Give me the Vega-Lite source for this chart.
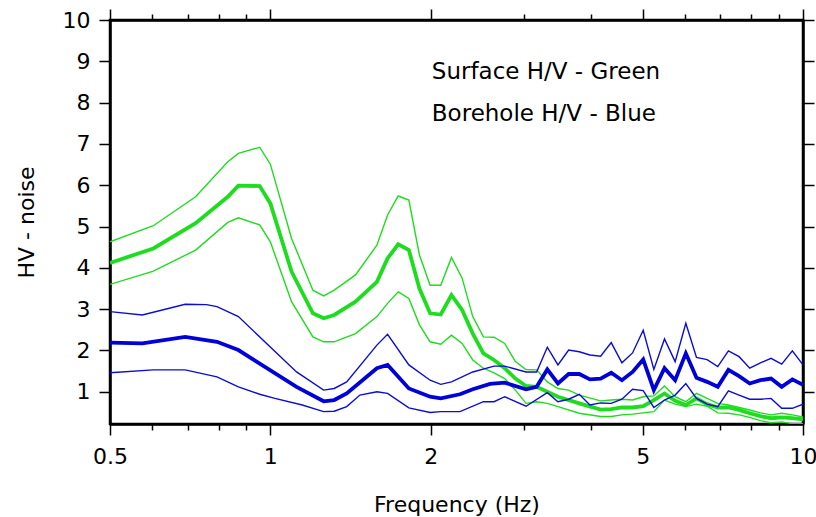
{
  "$schema": "https://vega.github.io/schema/vega-lite/v6.json",
  "width": 693,
  "height": 404,
  "autosize": {"type": "none"},
  "padding": {"left": 110, "top": 20, "right": 13, "bottom": 93},
  "background": "white",
  "config": {
    "view": {"stroke": "black", "strokeWidth": 2.5},
    "font": "DejaVu Sans"
  },
  "datasets": {
    "surfaceUpper": [
      {"f":0.5,"v":4.63},{"f":0.603,"v":5.02},{"f":0.724,"v":5.72},{"f":0.832,"v":6.57},{"f":0.871,"v":6.77},{"f":0.955,"v":6.92},{"f":1.0,"v":6.51},{"f":1.096,"v":4.71},{"f":1.202,"v":3.46},{"f":1.259,"v":3.32},{"f":1.318,"v":3.46},{"f":1.445,"v":3.83},{"f":1.585,"v":4.55},{"f":1.66,"v":5.28},{"f":1.738,"v":5.74},{"f":1.82,"v":5.64},{"f":1.905,"v":4.31},{"f":1.995,"v":3.58},{"f":2.089,"v":3.58},{"f":2.188,"v":4.25},{"f":2.291,"v":3.75},{"f":2.399,"v":2.82},{"f":2.512,"v":2.33},{"f":2.63,"v":2.32},{"f":2.754,"v":2.17},{"f":2.884,"v":1.73},{"f":3.02,"v":1.54},{"f":3.162,"v":1.53},{"f":3.311,"v":1.24},{"f":3.467,"v":1.08},{"f":3.631,"v":1.04},{"f":3.802,"v":0.92},{"f":4.169,"v":0.78},{"f":4.365,"v":0.8},{"f":4.571,"v":0.82},{"f":4.786,"v":0.8},{"f":5.012,"v":0.88},{"f":5.248,"v":0.9},{"f":5.495,"v":1.14},{"f":5.754,"v":0.88},{"f":6.026,"v":0.76},{"f":6.31,"v":0.96},{"f":6.607,"v":0.84},{"f":6.918,"v":0.72},{"f":7.244,"v":0.68},{"f":7.586,"v":0.62},{"f":7.943,"v":0.56},{"f":8.318,"v":0.49},{"f":8.71,"v":0.44},{"f":9.12,"v":0.48},{"f":9.55,"v":0.44},{"f":10,"v":0.39}
    ],
    "surfaceMean": [
      {"f":0.5,"v":4.12},{"f":0.603,"v":4.47},{"f":0.724,"v":5.08},{"f":0.832,"v":5.72},{"f":0.871,"v":5.99},{"f":0.955,"v":5.98},{"f":1.0,"v":5.56},{"f":1.096,"v":3.91},{"f":1.202,"v":2.9},{"f":1.259,"v":2.78},{"f":1.318,"v":2.86},{"f":1.445,"v":3.18},{"f":1.585,"v":3.66},{"f":1.66,"v":4.23},{"f":1.738,"v":4.57},{"f":1.82,"v":4.43},{"f":1.905,"v":3.5},{"f":1.995,"v":2.9},{"f":2.089,"v":2.87},{"f":2.188,"v":3.34},{"f":2.291,"v":2.98},{"f":2.399,"v":2.41},{"f":2.512,"v":1.93},{"f":2.63,"v":1.77},{"f":2.754,"v":1.57},{"f":2.884,"v":1.32},{"f":3.02,"v":1.14},{"f":3.162,"v":1.12},{"f":3.311,"v":1.0},{"f":3.467,"v":0.88},{"f":3.802,"v":0.72},{"f":4.169,"v":0.57},{"f":4.365,"v":0.58},{"f":4.571,"v":0.62},{"f":4.786,"v":0.62},{"f":5.012,"v":0.65},{"f":5.248,"v":0.8},{"f":5.495,"v":0.96},{"f":5.754,"v":0.78},{"f":6.026,"v":0.68},{"f":6.31,"v":0.84},{"f":6.607,"v":0.7},{"f":6.918,"v":0.62},{"f":7.244,"v":0.62},{"f":7.586,"v":0.56},{"f":7.943,"v":0.48},{"f":8.318,"v":0.41},{"f":8.71,"v":0.36},{"f":9.12,"v":0.38},{"f":9.55,"v":0.36},{"f":10,"v":0.33}
    ],
    "surfaceLower": [
      {"f":0.5,"v":3.6},{"f":0.603,"v":3.92},{"f":0.724,"v":4.43},{"f":0.832,"v":5.1},{"f":0.871,"v":5.21},{"f":0.955,"v":5.04},{"f":1.0,"v":4.63},{"f":1.096,"v":3.18},{"f":1.202,"v":2.33},{"f":1.259,"v":2.21},{"f":1.318,"v":2.21},{"f":1.445,"v":2.41},{"f":1.585,"v":2.82},{"f":1.66,"v":3.14},{"f":1.738,"v":3.42},{"f":1.82,"v":3.26},{"f":1.905,"v":2.62},{"f":1.995,"v":2.21},{"f":2.089,"v":2.15},{"f":2.188,"v":2.37},{"f":2.291,"v":2.17},{"f":2.399,"v":1.77},{"f":2.512,"v":1.57},{"f":2.63,"v":1.46},{"f":2.754,"v":1.32},{"f":2.884,"v":1.04},{"f":3.02,"v":0.72},{"f":3.162,"v":0.76},{"f":3.311,"v":0.72},{"f":3.467,"v":0.64},{"f":3.802,"v":0.48},{"f":4.169,"v":0.4},{"f":4.365,"v":0.4},{"f":4.571,"v":0.44},{"f":4.786,"v":0.46},{"f":5.012,"v":0.49},{"f":5.248,"v":0.52},{"f":5.495,"v":0.8},{"f":5.754,"v":0.7},{"f":6.026,"v":0.64},{"f":6.31,"v":0.7},{"f":6.607,"v":0.65},{"f":6.918,"v":0.49},{"f":7.244,"v":0.48},{"f":7.586,"v":0.44},{"f":7.943,"v":0.38},{"f":8.318,"v":0.3},{"f":8.71,"v":0.25},{"f":9.12,"v":0.27},{"f":9.55,"v":0.23},{"f":10,"v":0.23}
    ],
    "boreholeUpper": [
      {"f":0.5,"v":2.94},{"f":0.575,"v":2.86},{"f":0.692,"v":3.12},{"f":0.759,"v":3.11},{"f":0.794,"v":3.06},{"f":0.871,"v":2.82},{"f":1.12,"v":1.48},{"f":1.259,"v":1.04},{"f":1.318,"v":1.08},{"f":1.391,"v":1.24},{"f":1.585,"v":2.13},{"f":1.66,"v":2.39},{"f":1.82,"v":1.65},{"f":1.995,"v":1.28},{"f":2.089,"v":1.18},{"f":2.188,"v":1.24},{"f":2.399,"v":1.48},{"f":2.63,"v":1.62},{"f":2.754,"v":1.62},{"f":3.02,"v":1.48},{"f":3.162,"v":1.48},{"f":3.311,"v":2.08},{"f":3.467,"v":1.65},{"f":3.631,"v":2.01},{"f":3.802,"v":1.97},{"f":3.981,"v":1.89},{"f":4.169,"v":1.86},{"f":4.365,"v":2.19},{"f":4.571,"v":1.7},{"f":4.786,"v":1.94},{"f":5.012,"v":2.49},{"f":5.248,"v":1.54},{"f":5.495,"v":2.28},{"f":5.754,"v":1.73},{"f":6.026,"v":2.66},{"f":6.31,"v":1.83},{"f":6.607,"v":1.78},{"f":6.918,"v":1.61},{"f":7.244,"v":1.99},{"f":7.586,"v":1.85},{"f":7.943,"v":1.57},{"f":8.318,"v":1.7},{"f":8.71,"v":1.81},{"f":9.12,"v":1.67},{"f":9.55,"v":1.99},{"f":10,"v":1.65}
    ],
    "boreholeMean": [
      {"f":0.5,"v":2.19},{"f":0.575,"v":2.17},{"f":0.692,"v":2.33},{"f":0.794,"v":2.21},{"f":0.871,"v":2.01},{"f":1.12,"v":1.12},{"f":1.259,"v":0.77},{"f":1.318,"v":0.8},{"f":1.391,"v":0.96},{"f":1.585,"v":1.57},{"f":1.66,"v":1.65},{"f":1.82,"v":1.08},{"f":1.995,"v":0.88},{"f":2.089,"v":0.84},{"f":2.27,"v":0.94},{"f":2.399,"v":1.06},{"f":2.585,"v":1.19},{"f":2.754,"v":1.22},{"f":3.02,"v":1.06},{"f":3.162,"v":1.12},{"f":3.311,"v":1.54},{"f":3.467,"v":1.2},{"f":3.631,"v":1.43},{"f":3.802,"v":1.43},{"f":3.981,"v":1.3},{"f":4.169,"v":1.32},{"f":4.365,"v":1.46},{"f":4.571,"v":1.28},{"f":4.786,"v":1.48},{"f":5.012,"v":1.78},{"f":5.248,"v":1.04},{"f":5.495,"v":1.57},{"f":5.754,"v":1.28},{"f":6.026,"v":1.93},{"f":6.31,"v":1.34},{"f":6.607,"v":1.24},{"f":6.918,"v":1.12},{"f":7.244,"v":1.53},{"f":7.586,"v":1.38},{"f":7.943,"v":1.2},{"f":8.318,"v":1.28},{"f":8.71,"v":1.32},{"f":9.12,"v":1.12},{"f":9.55,"v":1.3},{"f":10,"v":1.17}
    ],
    "boreholeLower": [
      {"f":0.5,"v":1.46},{"f":0.603,"v":1.53},{"f":0.692,"v":1.53},{"f":0.794,"v":1.36},{"f":0.871,"v":1.12},{"f":0.955,"v":0.94},{"f":1.02,"v":0.84},{"f":1.148,"v":0.68},{"f":1.259,"v":0.52},{"f":1.318,"v":0.53},{"f":1.391,"v":0.64},{"f":1.473,"v":0.92},{"f":1.585,"v":1.0},{"f":1.66,"v":0.96},{"f":1.82,"v":0.61},{"f":1.995,"v":0.5},{"f":2.089,"v":0.52},{"f":2.27,"v":0.52},{"f":2.512,"v":0.76},{"f":2.63,"v":0.76},{"f":2.754,"v":0.88},{"f":3.02,"v":0.65},{"f":3.311,"v":0.98},{"f":3.467,"v":0.76},{"f":3.631,"v":0.82},{"f":3.802,"v":0.94},{"f":3.981,"v":0.68},{"f":4.169,"v":0.73},{"f":4.365,"v":0.72},{"f":4.571,"v":0.82},{"f":4.786,"v":1.06},{"f":5.012,"v":1.03},{"f":5.248,"v":0.62},{"f":5.495,"v":0.8},{"f":5.754,"v":0.92},{"f":6.026,"v":1.2},{"f":6.31,"v":0.84},{"f":6.607,"v":0.7},{"f":6.918,"v":0.64},{"f":7.244,"v":1.02},{"f":7.586,"v":0.92},{"f":7.943,"v":0.82},{"f":8.318,"v":0.82},{"f":8.71,"v":0.84},{"f":9.12,"v":0.6},{"f":9.55,"v":0.6},{"f":10,"v":0.7}
    ],
    "notes": [
      {"label": "Surface H/V - Green"},
      {"label": "Borehole H/V - Blue"}
    ]
  },
  "resolve": {"axis": {"x": "independent", "y": "independent"}},
  "layer": [
    {
      "data": {"name": "surfaceUpper"},
      "mark": {"type": "line", "color": "#1edc1e", "strokeWidth": 1.4, "clip": true},
      "encoding": {
        "x": {
          "field": "f", "type": "quantitative",
          "scale": {"type": "log", "domain": [0.5, 10], "nice": false},
          "axis": {
            "orient": "bottom",
            "values": [0.5, 0.6, 0.7, 0.8, 0.9, 1, 2, 3, 4, 5, 6, 7, 8, 9, 10],
            "labelExpr": "indexof([0.5,1,2,5,10], datum.value) >= 0 ? format(datum.value, '~g') : ''",
            "tickSize": {"condition": {"test": "indexof([0.5,1,2,5,10], datum.value) >= 0", "value": 11}, "value": 6},
            "labelOverlap": false,
            "labelFlush": false,
            "labelFont": "DejaVu Sans",
            "labelFontSize": 22,
            "labelColor": "black",
            "labelPadding": 11,
            "title": "Frequency (Hz)",
            "titleFont": "DejaVu Sans",
            "titleFontSize": 22,
            "titleFontWeight": "normal",
            "titleColor": "black",
            "titleY": 87,
            "titleBaseline": "alphabetic",
            "domainColor": "black",
            "domainWidth": 2.5,
            "tickColor": "black",
            "tickWidth": 1.5,
            "grid": false
          }
        },
        "y": {
          "field": "v", "type": "quantitative",
          "scale": {"domain": [0.22, 10], "nice": false, "zero": false},
          "axis": {
            "orient": "left",
            "values": [1, 2, 3, 4, 5, 6, 7, 8, 9, 10],
            "tickSize": 11,
            "labelFont": "DejaVu Sans",
            "labelFontSize": 22,
            "labelColor": "black",
            "labelPadding": 9,
            "labelOverlap": false,
            "labelFlush": false,
            "title": "HV - noise",
            "titleFont": "DejaVu Sans",
            "titleFontSize": 22,
            "titleFontWeight": "normal",
            "titleColor": "black",
            "titleX": -77,
            "titleY": 202,
            "titleAngle": 270,
            "titleBaseline": "alphabetic",
            "domainColor": "black",
            "domainWidth": 2.5,
            "tickColor": "black",
            "tickWidth": 1.5,
            "grid": false
          }
        }
      }
    },
    {
      "data": {"name": "surfaceLower"},
      "mark": {"type": "line", "color": "#1edc1e", "strokeWidth": 1.4, "clip": true},
      "encoding": {
        "x": {
          "field": "f", "type": "quantitative",
          "axis": {
            "orient": "top",
            "values": [0.5, 0.6, 0.7, 0.8, 0.9, 1, 2, 3, 4, 5, 6, 7, 8, 9, 10],
            "labels": false,
            "tickSize": {"condition": {"test": "indexof([0.5,1,2,5,10], datum.value) >= 0", "value": 11}, "value": 6},
            "title": null,
            "domainColor": "black",
            "domainWidth": 2.5,
            "tickColor": "black",
            "tickWidth": 1.5,
            "grid": false
          }
        },
        "y": {
          "field": "v", "type": "quantitative",
          "axis": {
            "orient": "right",
            "values": [1, 2, 3, 4, 5, 6, 7, 8, 9, 10],
            "labels": false,
            "tickSize": 11,
            "title": null,
            "domainColor": "black",
            "domainWidth": 2.5,
            "tickColor": "black",
            "tickWidth": 1.5,
            "grid": false
          }
        }
      }
    },
    {
      "data": {"name": "surfaceMean"},
      "mark": {"type": "line", "color": "#1edc1e", "strokeWidth": 3.8, "clip": true},
      "encoding": {
        "x": {"field": "f", "type": "quantitative", "axis": null},
        "y": {"field": "v", "type": "quantitative", "axis": null}
      }
    },
    {
      "data": {"name": "boreholeUpper"},
      "mark": {"type": "line", "color": "#0c0cd2", "strokeWidth": 1.4, "clip": true},
      "encoding": {
        "x": {"field": "f", "type": "quantitative", "axis": null},
        "y": {"field": "v", "type": "quantitative", "axis": null}
      }
    },
    {
      "data": {"name": "boreholeLower"},
      "mark": {"type": "line", "color": "#0c0cd2", "strokeWidth": 1.4, "clip": true},
      "encoding": {
        "x": {"field": "f", "type": "quantitative", "axis": null},
        "y": {"field": "v", "type": "quantitative", "axis": null}
      }
    },
    {
      "data": {"name": "boreholeMean"},
      "mark": {"type": "line", "color": "#0000d8", "strokeWidth": 3.8, "clip": true},
      "encoding": {
        "x": {"field": "f", "type": "quantitative", "axis": null},
        "y": {"field": "v", "type": "quantitative", "axis": null}
      }
    },
    {
      "data": {"name": "notes"},
      "transform": [{"filter": "datum.label === 'Surface H/V - Green'"}],
      "mark": {"type": "text", "align": "left", "baseline": "alphabetic", "font": "DejaVu Sans", "fontSize": 23, "color": "black"},
      "encoding": {
        "x": {"datum": 2.01, "type": "quantitative", "axis": null},
        "y": {"datum": 8.56, "type": "quantitative", "axis": null},
        "text": {"field": "label"}
      }
    },
    {
      "data": {"name": "notes"},
      "transform": [{"filter": "datum.label === 'Borehole H/V - Blue'"}],
      "mark": {"type": "text", "align": "left", "baseline": "alphabetic", "font": "DejaVu Sans", "fontSize": 23, "color": "black"},
      "encoding": {
        "x": {"datum": 2.01, "type": "quantitative", "axis": null},
        "y": {"datum": 7.55, "type": "quantitative", "axis": null},
        "text": {"field": "label"}
      }
    }
  ]
}
